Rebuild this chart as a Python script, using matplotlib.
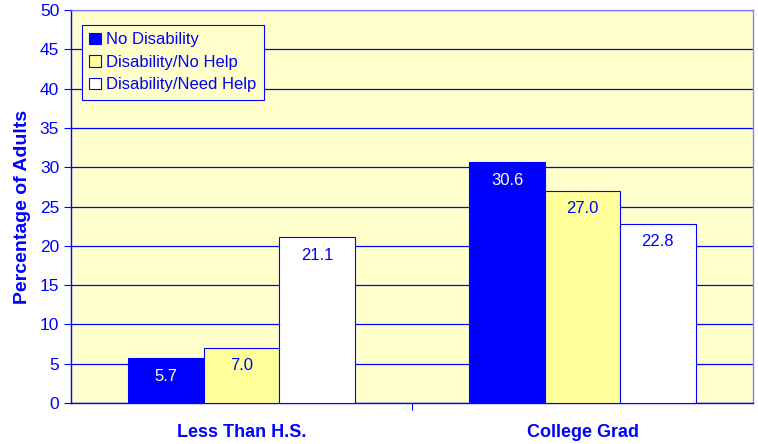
import numpy as np
import matplotlib.pyplot as plt
from matplotlib.patches import Patch

# ── Data ─────────────────────────────────────────────────────────────────────
categories = ["Less Than H.S.", "College Grad"]
series_names = ["No Disability", "Disability/No Help", "Disability/Need Help"]
no_disability = [5.7, 30.6]
disability_no_help = [7.0, 27.0]
disability_need_help = [21.1, 22.8]
y_ticks = [0, 5, 10, 15, 20, 25, 30, 35, 40, 45, 50]

BLUE = "#0000FF"
BG = "#FFFFCC"
fills = [BLUE, "#FFFF99", "#FFFFFF"]
label_colors = [BG, BLUE, BLUE]

plt.rcParams["font.family"] = ["Liberation Sans", "DejaVu Sans"]

fig = plt.figure(figsize=(7.58, 4.44), dpi=100, facecolor="white")
ax = fig.add_axes([0.0937, 0.0923, 0.8997, 0.8852])
ax.set_facecolor(BG)

x = np.arange(len(categories))
width = 0.221
values = [no_disability, disability_no_help, disability_need_help]

for i, (name, vals) in enumerate(zip(series_names, values)):
    pos = x + (i - 1) * width
    bars = ax.bar(pos, vals, width, color=fills[i], edgecolor=BLUE,
                  linewidth=0.8, zorder=3, label=name)
    for b, v in zip(bars, vals):
        ax.annotate(f"{v:.1f}", (b.get_x() + b.get_width() / 2, v),
                    xytext=(0, -18), textcoords="offset pixels",
                    ha="center", va="center", fontsize=12,
                    color=label_colors[i], zorder=4)

# ── Axes ─────────────────────────────────────────────────────────────────────
ax.set_xlim(-0.5, 1.5)
ax.set_ylim(0, 50)
ax.set_yticks(y_ticks)
ax.yaxis.grid(True, color=BLUE, linewidth=0.9, zorder=1)
ax.set_axisbelow(True)

ax.set_xticks([0.5], minor=False)
ax.set_xticklabels([""])
ax.set_xticks(x, minor=True)
ax.set_xticklabels(categories, minor=True, fontsize=13,
                   fontweight="bold", color=BLUE)
ax.tick_params(axis="x", which="minor", length=0, pad=15)
ax.tick_params(axis="x", which="major", length=5, color=BLUE, direction="out")
ax.tick_params(axis="y", length=5, color=BLUE, labelcolor=BLUE,
               labelsize=12.5, direction="out")

for side in ["left", "bottom"]:
    ax.spines[side].set_color(BLUE)
    ax.spines[side].set_linewidth(1.0)
for side in ["right", "top"]:
    ax.spines[side].set_color("#8080FF")
    ax.spines[side].set_linewidth(1.0)

ax.set_ylabel("Percentage of Adults", color=BLUE, fontsize=14,
              fontweight="bold", labelpad=6)

# ── Legend ───────────────────────────────────────────────────────────────────
handles = [Patch(facecolor=fills[i], edgecolor=BLUE, linewidth=0.8,
                 label=series_names[i]) for i in range(3)]
leg = ax.legend(handles=handles, loc="upper left",
                bbox_to_anchor=(0.016, 0.962), borderaxespad=0, fontsize=12,
                frameon=True, fancybox=False, facecolor=BG,
                edgecolor=BLUE, framealpha=1, handlelength=0.7,
                handleheight=0.7, handletextpad=0.3, borderpad=0.45,
                labelspacing=0.45, labelcolor=BLUE)
leg.get_frame().set_linewidth(0.8)

fig.savefig("out.png", dpi=100, facecolor="white")
